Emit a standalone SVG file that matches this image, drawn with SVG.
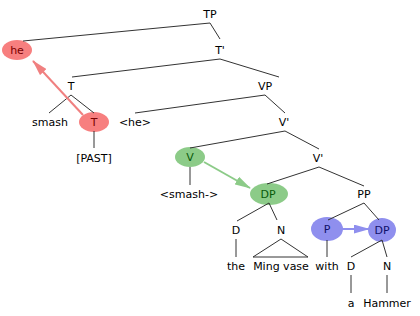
<svg xmlns="http://www.w3.org/2000/svg" width="420" height="316" viewBox="0 0 420 316">
<defs>
<style>
text{font-family:"DejaVu Sans",sans-serif;font-size:11px;text-anchor:middle;fill:#000}
.e{stroke:#333;stroke-width:1;fill:none}
.red{fill:#f77f7f}.green{fill:#8ccb88}.blue{fill:#8f8fee}
.tr{fill:#7a0000}.tg{fill:#0a5a0a}.tb{fill:#10106a}
</style>
<marker id="ar" viewBox="0 0 18 10" refX="17" refY="5" markerWidth="8" markerHeight="4.5" orient="auto" markerUnits="strokeWidth"><path d="M0,0L18,5L0,10z" fill="#f08080"/></marker>
<marker id="ag" viewBox="0 0 18 10" refX="17" refY="5" markerWidth="8" markerHeight="4.5" orient="auto" markerUnits="strokeWidth"><path d="M0,0L18,5L0,10z" fill="#8ccb88"/></marker>
<marker id="ab" viewBox="0 0 18 10" refX="17" refY="5" markerWidth="8" markerHeight="4.5" orient="auto" markerUnits="strokeWidth"><path d="M0,0L18,5L0,10z" fill="#8f8fee"/></marker>
</defs>
<rect width="420" height="316" fill="#fff"/>
<g id="n-TP"><text x="210" y="18">TP</text></g>
<g id="n-he"><ellipse class="red" cx="17" cy="50" rx="15" ry="10"/><text class="tr" x="17" y="54">he</text></g>
<g id="n-Tbar"><text x="220" y="54">T'</text></g>
<g id="n-T"><text x="71" y="90">T</text></g>
<g id="n-VP"><text x="265" y="90">VP</text></g>
<g id="n-smash"><text x="50" y="126">smash</text></g>
<g id="n-T2"><ellipse class="red" cx="94" cy="122" rx="15" ry="10"/><text class="tr" x="94" y="126">T</text></g>
<g id="n-past"><text x="94" y="162">[PAST]</text></g>
<g id="n-he2"><text x="135" y="126">&lt;he&gt;</text></g>
<g id="n-Vbar1"><text x="284" y="126">V'</text></g>
<g id="n-V"><ellipse class="green" cx="190" cy="157" rx="15" ry="10"/><text class="tg" x="190" y="161">V</text></g>
<g id="n-Vbar2"><text x="318" y="162">V'</text></g>
<g id="n-smash2"><text x="189" y="198">&lt;smash-&gt;</text></g>
<g id="n-DP1"><ellipse class="green" cx="269" cy="194" rx="19" ry="11"/><text class="tg" x="268" y="198">DP</text></g>
<g id="n-PP"><text x="364" y="198">PP</text></g>
<g id="n-D1"><text x="236" y="234">D</text></g>
<g id="n-N1"><text x="281" y="234">N</text></g>
<g id="n-P"><ellipse class="blue" cx="327" cy="229" rx="16" ry="12"/><text class="tb" x="327" y="233">P</text></g>
<g id="n-DP2"><ellipse class="blue" cx="382" cy="230" rx="14" ry="12"/><text class="tb" x="382" y="234">DP</text></g>
<g id="n-the"><text x="236" y="270">the</text></g>
<g id="n-ming"><text x="281" y="270">Ming vase</text></g>
<g id="n-with"><text x="327" y="270">with</text></g>
<g id="n-D2"><text x="351" y="270">D</text></g>
<g id="n-N2"><text x="387" y="270">N</text></g>
<g id="n-a"><text x="351" y="307">a</text></g>
<g id="n-hammer"><text x="387" y="307">Hammer</text></g>
<g id="connectors">
<path class="e" d="M210,23L23,41M210,23L220,39"/>
<path class="e" d="M220,59L72,77M220,59L279,77"/>
<path class="e" d="M71,95L49,113M71,95L94,113"/>
<path class="e" d="M94,131V148"/>
<path class="e" d="M265,95L135,113M265,95L285,113"/>
<path class="e" d="M285,131L190,148M285,131L319,149"/>
<path class="e" d="M190,167V185"/>
<path class="e" d="M319,167L267,184M319,167L364,186"/>
<path class="e" d="M269,203L237,221M269,203L277,220"/>
<path class="e" d="M236,239V257"/>
<path class="e" d="M281,239L253,257H308Z"/>
<path class="e" d="M364,203L328,220M364,203L379,220"/>
<path class="e" d="M327,240V257"/>
<path class="e" d="M382,240L351,257M382,240L387,257"/>
<path class="e" d="M351,275V293"/>
<path class="e" d="M387,275V293"/>
<line x1="83" y1="115" x2="33" y2="61" stroke="#f08080" stroke-width="2" marker-end="url(#ar)"/>
<line x1="204" y1="162" x2="250" y2="188" stroke="#8ccb88" stroke-width="2" marker-end="url(#ag)"/>
<line x1="342" y1="229" x2="369" y2="229" stroke="#8f8fee" stroke-width="2" marker-end="url(#ab)"/>
</g>
</svg>
